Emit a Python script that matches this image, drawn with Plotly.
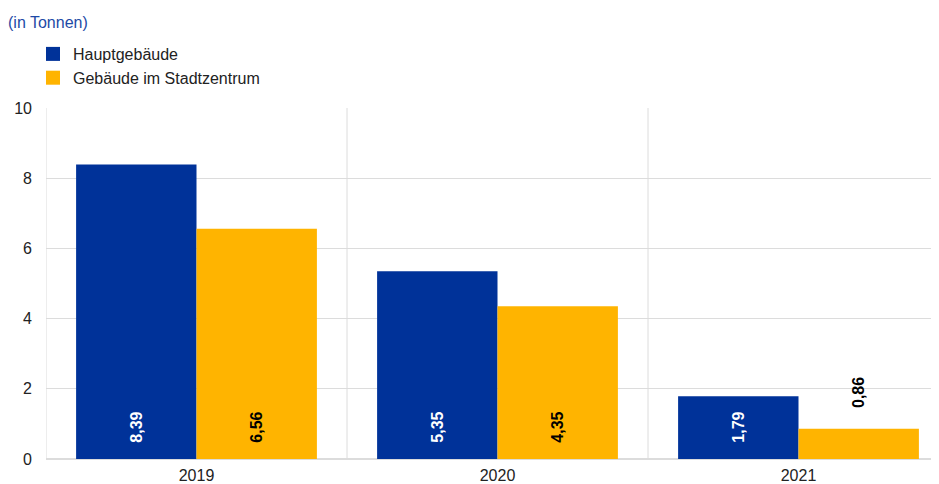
import plotly.graph_objects as go

categories = ["2019", "2020", "2021"]
haupt = [8.39, 5.35, 1.79]
stadt = [6.56, 4.35, 0.86]
series_names = ["Hauptgebäude", "Gebäude im Stadtzentrum"]
title_text = "(in Tonnen)"

# page body adds an 8px offset; figure sized to fit the window
W, H = 931, 476
ML, MR, MT, MB = 38, 0, 100, 25
font = "Liberation Sans, Arial, sans-serif"
BLUE, YELLOW = "#003299", "#FFB400"

n = len(categories)
plot_w = W - ML - MR
cat_px = 301
xmax = -0.5 + plot_w / cat_px
xs = list(range(n))
NB = "\u00a0"

def pos(vals, thr=1.2):
    return ["inside" if v >= thr else "outside" for v in vals]

def tmpl(vals, thr=1.2):
    return [NB * 3 + "%{y:.2f}" if v >= thr else NB * 4 + "%{y:.2f}" for v in vals]

fig = go.Figure()
for vals, name, col, incol in [(haupt, series_names[0], BLUE, "white"),
                               (stadt, series_names[1], YELLOW, "black")]:
    fig.add_trace(go.Bar(
        x=xs, y=vals, name=name, marker_color=col, marker_line_width=0,
        texttemplate=tmpl(vals), textposition=pos(vals), textangle=-90,
        insidetextanchor="start", cliponaxis=False, showlegend=False,
        insidetextfont=dict(color=incol, size=16, family=font, weight="bold"),
        outsidetextfont=dict(color="black", size=16, family=font, weight="bold"),
    ))
for name, col in [(series_names[0], BLUE), (series_names[1], YELLOW)]:
    fig.add_trace(go.Scatter(
        x=[None], y=[None], mode="markers", name=name,
        marker=dict(symbol="square", size=14, color=col, line_width=0),
    ))

shapes = []
for b in range(n):
    shapes.append(dict(type="line", xref="x", yref="paper", x0=b - 0.5, x1=b - 0.5,
                       y0=0, y1=1, line=dict(color="#dcdcdc", width=1), layer="below"))

fig.update_layout(
    width=W, height=H, autosize=False,
    margin=dict(l=ML, r=MR, t=MT, b=MB, pad=0, autoexpand=False),
    paper_bgcolor="white", plot_bgcolor="white",
    separators=",.",
    barmode="group", bargap=0.2, bargroupgap=0,
    font=dict(family=font, size=16, color="#222222"),
    title=dict(text=title_text, x=0, xref="container", xanchor="left",
               y=1 - 14 / H, yref="container", yanchor="middle",
               font=dict(family=font, size=16, color="#1d4aa6")),
    legend=dict(orientation="v", xref="container", yref="container",
                x=25 / W, xanchor="left", y=1 - 29 / H, yanchor="top",
                font=dict(family=font, size=16, color="#222222"),
                itemclick=False, tracegroupgap=0, bgcolor="rgba(0,0,0,0)"),
    xaxis=dict(tickvals=xs, ticktext=categories, range=[-0.5, xmax],
               showgrid=False, zeroline=False, showline=False, ticks="",
               ticklabelstandoff=5, automargin=False,
               tickfont=dict(size=16, color="#222222")),
    yaxis=dict(range=[0, 10], dtick=2, showgrid=True, gridcolor="#dcdcdc",
               gridwidth=1, zeroline=True, zerolinecolor="#dcdcdc", showline=False,
               ticks="", ticklabelstandoff=13, automargin=False,
               tickfont=dict(size=16, color="#222222")),
    shapes=shapes,
)

fig.write_html("out.html")
